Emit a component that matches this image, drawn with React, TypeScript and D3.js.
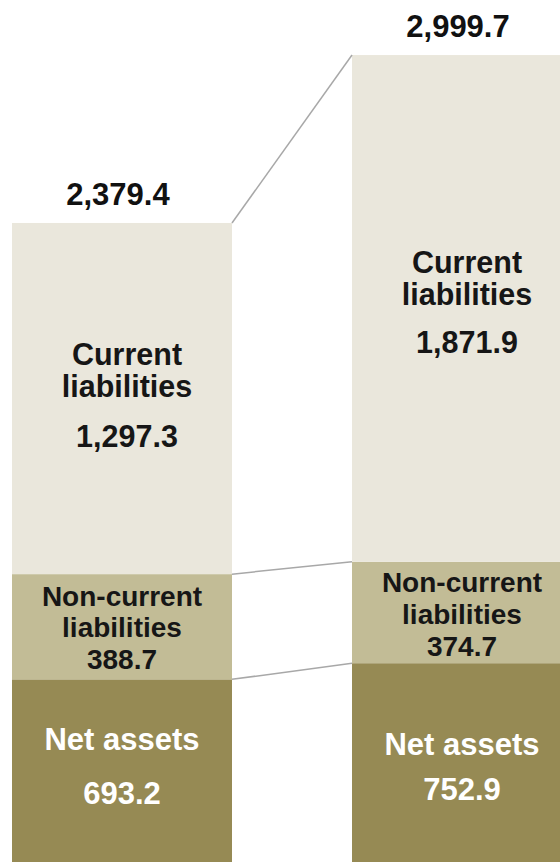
import * as d3 from "d3";
import React from "react";

const width = 560;
const height = 862;

// two balance-sheet columns
const periods = ["Prior", "Current"];
const netAssets = [693.2, 752.9];
const nonCurrentLiabilities = [388.7, 374.7];
const currentLiabilities = [1297.3, 1871.9];
const totals = [2379.4, 2999.7];

const segmentKeys = ["net", "nonCurrent", "current"];
const segmentNames = [["Net assets"], ["Non-current", "liabilities"], ["Current", "liabilities"]];
const segmentColors = ["#968a54", "#c2bc96", "#eae7dc"];
const segmentTextColors = ["#ffffff", "#161616", "#161616"];

const fmt = d3.format(",.1f");

const App = () => {
  const rows = periods.map((p, i) => ({
    period: p,
    net: netAssets[i],
    nonCurrent: nonCurrentLiabilities[i],
    current: currentLiabilities[i],
  }));
  const stack = d3.stack<any>().keys(segmentKeys)(rows);

  const x = d3
    .scaleBand()
    .domain(periods)
    .range([12, 572])
    .paddingInner(0.353)
    .paddingOuter(0);

  const y = d3.scaleLinear().domain([0, 2999.7]).range([867, 55]);

  const bw = x.bandwidth();

  // label layout: baseline offsets (px) from segment centre per bar
  const labelLayout = [
    // net assets
    [
      { name: [-23, 0], value: 31, font: 31 },
      { name: [-10, 0], value: 35, font: 31 },
    ],
    // non-current
    [
      { name: [-21, 10.5], value: 42, font: 28 },
      { name: [-20, 11.5], value: 44, font: 28 },
    ],
    // current
    [
      { name: [-34, -2], value: 48, font: 30.5 },
      { name: [-35, -3], value: 45, font: 30.5 },
    ],
  ];
  const labelDx = [0, 0, 5];

  return (
    <svg
      width={width}
      height={height}
      style={{ position: "absolute", left: 0, top: 0, display: "block", background: "#fff" }}
      fontFamily="'Liberation Sans', Arial, sans-serif"
      fontWeight="bold"
    >
      {stack.map((layer, li) =>
        layer.map((d, i) => (
          <rect
            key={`${li}-${i}`}
            x={x(periods[i])}
            y={y(d[1])}
            width={bw}
            height={y(d[0]) - y(d[1])}
            fill={segmentColors[li]}
          />
        ))
      )}

      {/* connector lines between the two bars */}
      {stack.map((layer, li) => (
        <line
          key={`c-${li}`}
          x1={(x(periods[0]) as number) + bw}
          y1={y(layer[0][1])}
          x2={x(periods[1])}
          y2={y(layer[1][1])}
          stroke="#a8a8a8"
          strokeWidth={1.5}
        />
      ))}

      {/* segment labels */}
      {stack.map((layer, li) =>
        layer.map((d, i) => {
          const cx = (x(periods[i]) as number) + bw / 2 + labelDx[li];
          const cy = (y(d[0]) + y(d[1])) / 2;
          const lay = labelLayout[li][i];
          const val = d[1] - d[0];
          return (
            <g key={`l-${li}-${i}`} fill={segmentTextColors[li]} fontSize={lay.font} textAnchor="middle">
              {segmentNames[li].map((t, k) => (
                <text key={k} x={cx} y={cy + lay.name[k]}>
                  {t}
                </text>
              ))}
              <text x={cx} y={cy + lay.value}>
                {fmt(val)}
              </text>
            </g>
          );
        })
      )}

      {/* totals */}
      {totals.map((t, i) => (
        <text
          key={`t-${i}`}
          x={(x(periods[i]) as number) + bw / 2 - 4}
          y={y(t) - 18}
          textAnchor="middle"
          fontSize={31}
          fill="#111"
        >
          {fmt(t)}
        </text>
      ))}
    </svg>
  );
};

export default App;
